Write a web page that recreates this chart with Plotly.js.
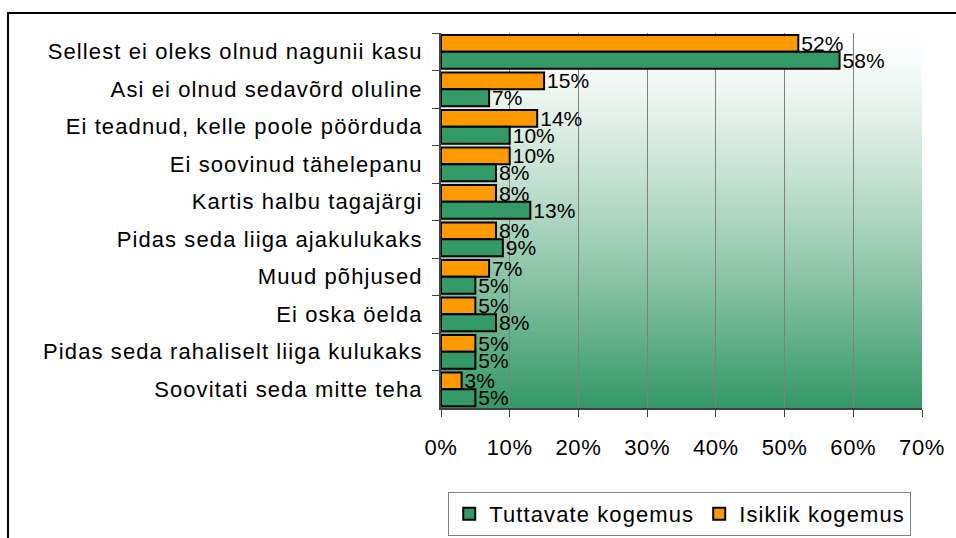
<!DOCTYPE html>
<html>
<head>
<meta charset="utf-8">
<script src="https://cdn.plot.ly/plotly-3.0.1.min.js"></script>
<style>
html,body{margin:0;padding:0;background:#fff;}
#chart{width:956px;height:538px;}
#chart .ytick text { letter-spacing: 1.1px; }
.legendtext { letter-spacing: 1.1px; }
#chart .xtick text { letter-spacing: 0.6px; }
</style>
</head>
<body>
<div id="chart"></div>
<script>
// Data (top to bottom)
const categories = [
  "Sellest ei oleks olnud nagunii kasu",
  "Asi ei olnud sedavõrd oluline",
  "Ei teadnud, kelle poole pöörduda",
  "Ei soovinud tähelepanu",
  "Kartis halbu tagajärgi",
  "Pidas seda liiga ajakulukaks",
  "Muud põhjused",
  "Ei oska öelda",
  "Pidas seda rahaliselt liiga kulukaks",
  "Soovitati seda mitte teha"
];
const isiklik = [52, 15, 14, 10, 8, 8, 7, 5, 5, 3];
const tuttavate = [58, 7, 10, 8, 13, 9, 5, 8, 5, 5];
const seriesNames = ["Tuttavate kogemus", "Isiklik kogemus"];
const xTicks = [0, 10, 20, 30, 40, 50, 60, 70];

const FONT = "Liberation Sans, Arial, sans-serif";

const traceI = {
  type: "bar", orientation: "h", name: seriesNames[1],
  y: categories, x: isiklik,
  text: isiklik.map(v => v + "%"), textposition: "outside", constraintext: "none",
  cliponaxis: false,
  textfont: {family: FONT, size: 21, color: "#000"},
  marker: {color: "#ff9900", line: {color: "#000", width: 2}},
  hoverinfo: "skip"
};
const traceT = {
  type: "bar", orientation: "h", name: seriesNames[0],
  y: categories, x: tuttavate,
  text: tuttavate.map(v => v + "%"), textposition: "outside", constraintext: "none",
  cliponaxis: false,
  textfont: {family: FONT, size: 21, color: "#000"},
  marker: {color: "#339966", line: {color: "#000", width: 2}},
  hoverinfo: "skip"
};

// Background gradient stripes (white top -> green bottom)
const shapes = [];
const N = 75;
for (let i = 0; i < N; i++) {
  const t = (i + 0.5) / N; // 0 top, 1 bottom
  const f = Math.pow(t, 1.3);
  const r = Math.round(255 + (52 - 255) * f);
  const g = Math.round(255 + (152 - 255) * f);
  const b = Math.round(255 + (102 - 255) * f);
  shapes.push({
    type: "rect", xref: "x domain", yref: "y domain", layer: "below",
    x0: 0, x1: 1, y0: 1 - (i + 1) / N, y1: 1 - i / N + 0.002,
    fillcolor: `rgb(${r},${g},${b})`, line: {width: 0}
  });
}
// outer frame (top and left)
shapes.push({
  type: "path", xref: "paper", yref: "paper", layer: "above",
  path: "M -0.9002,-0.40 L -0.9002,1.0533 L 1.10,1.0533",
  line: {color: "#000", width: 2}
});

const layout = {
  width: 956, height: 538,
  margin: {l: 441, r: 34, t: 33, b: 130, autoexpand: false},
  paper_bgcolor: "#fff",
  plot_bgcolor: "rgba(0,0,0,0)",
  barmode: "group", bargap: 0.1, bargroupgap: 0,
  font: {family: FONT, size: 22, color: "#000"},
  showlegend: true,
  legend: {
    orientation: "h", xref: "container", yref: "container",
    x: 0.711, xanchor: "center", y: 0.0855, yanchor: "top",
    traceorder: "reversed", itemwidth: 30,
    bordercolor: "#808080", borderwidth: 1, bgcolor: "#fff",
    font: {family: FONT, size: 22, color: "#000"}
  },
  xaxis: {
    range: [0, 70], tickvals: xTicks, ticktext: xTicks.map(v => v + "%"),
    showgrid: true, gridcolor: "#808080", gridwidth: 1,
    zeroline: false, showline: true, linecolor: "#404040", linewidth: 2,
    ticks: "outside", ticklen: 7, tickcolor: "#404040", tickwidth: 1,
    ticklabelstandoff: 12,
    tickfont: {family: FONT, size: 22, color: "#000"},
    mirror: false, fixedrange: true, automargin: false
  },
  yaxis: {
    autorange: "reversed", type: "category",
    showgrid: false, zeroline: false, showline: true, linecolor: "#404040", linewidth: 2,
    ticks: "outside", tickson: "boundaries", ticklen: 7, tickcolor: "#404040", tickwidth: 1,
    ticklabelstandoff: 12,
    tickfont: {family: FONT, size: 22, color: "#000"},
    fixedrange: true, automargin: false
  },
  shapes: shapes
};

Plotly.newPlot("chart", [traceI, traceT], layout, {displayModeBar: false, staticPlot: true});
</script>
</body>
</html>
